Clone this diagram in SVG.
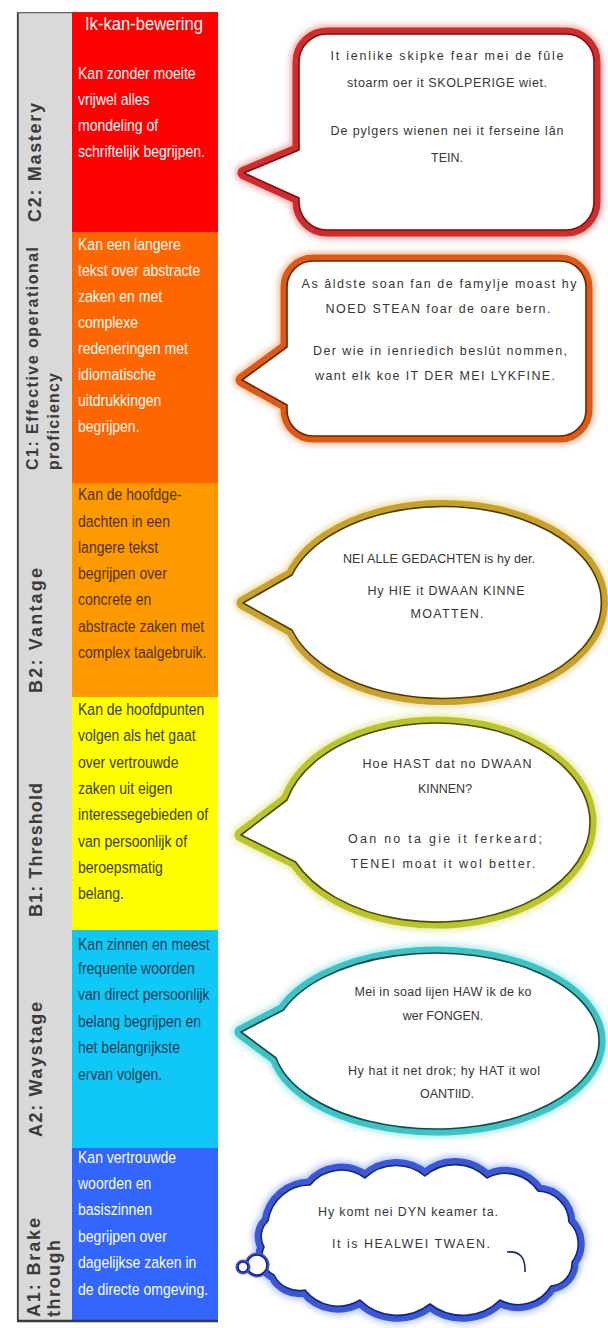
<svg xmlns="http://www.w3.org/2000/svg" width="608" height="1328" viewBox="0 0 608 1328">
<defs>
<style>
.lbl{font-family:"Liberation Sans",Arial,sans-serif;font-weight:bold;fill:#3c3c3c}
.txt{font-family:"Liberation Sans",Arial,sans-serif;font-size:16.5px}
.hdr{font-family:"Liberation Sans",Arial,sans-serif;font-size:19px;fill:#ffffff}
.wt{fill:#ffffff}
.bt{font-family:"Liberation Sans",Arial,sans-serif;font-size:12.5px;text-anchor:middle;fill:#363636}
.glow{fill:none;stroke-width:18;stroke-linejoin:round;opacity:.55;filter:url(#blur)}
.band{fill:#ffffff;stroke-width:13;stroke-linejoin:round;paint-order:stroke}
.edge{fill:none;stroke-width:1.6;stroke-linejoin:round}
.band-s{fill:#ffffff;stroke-width:5;paint-order:stroke}
</style>
<filter id="blur" x="-20%" y="-20%" width="140%" height="140%"><feGaussianBlur stdDeviation="3"/></filter>
<path id="p1" d="M 327 34 H 566 A 28 28 0 0 1 594 62 V 202 A 28 28 0 0 1 566 230 H 327 A 28 28 0 0 1 299 202 V 198 L 244 173 L 299 150 V 62 A 28 28 0 0 1 327 34 Z"/>
<path id="p2" d="M 313 261 H 560 A 26 26 0 0 1 586 287 V 410 A 26 26 0 0 1 560 436 H 313 A 26 26 0 0 1 287 410 V 405 L 242 380 L 287 347 V 287 A 26 26 0 0 1 313 261 Z"/>
<path id="p3" d="M 292 575 A 158 96 0 1 1 292 630 L 243 603 Z"/>
<path id="p4" d="M 287 800 A 153.5 99.5 0 1 1 295.6 862 L 241 835 Z"/>
<path id="p5" d="M 283.5 1010 A 163 88 0 1 1 276.1 1058 L 241 1032 Z"/>
<path id="p6" d="M 268 1221 A 42 42 0 0 1 310 1185 A 40 40 0 0 1 365 1178 A 45 45 0 0 1 425 1176 A 45 45 0 0 1 487 1178 A 39 39 0 0 1 538 1191 A 32 32 0 0 1 569 1222 A 30 30 0 0 1 572 1262 A 23 23 0 0 1 551 1286 A 38 38 0 0 1 500 1300 A 53 53 0 0 1 430 1304 A 53 53 0 0 1 360 1300 A 42 42 0 0 1 305 1290 A 28 28 0 0 1 274 1275 A 21 21 0 0 1 264 1247 A 21 21 0 0 1 268 1221 Z"/>
</defs>
<rect x="0" y="0" width="608" height="1328" fill="#ffffff"/>

<g id="scale">
<rect x="17" y="12" width="55" height="1309" fill="#d9d9d9"/>
</g>

<g id="level-c2">
<rect x="72" y="12" width="146" height="220" fill="#ff0000"/>
<text class="hdr" x="144" y="30" text-anchor="middle" textLength="118" lengthAdjust="spacingAndGlyphs">Ik-kan-bewering</text>
<text class="lbl" font-size="18" transform="translate(41 222) rotate(-90)" textLength="119">C2: Mastery</text>
<g class="txt wt" transform="translate(78 0) scale(0.85 1)">
<text y="79">Kan zonder moeite</text>
<text y="105">vrijwel alles</text>
<text y="131">mondeling of</text>
<text y="157">schriftelijk begrijpen.</text>
</g>
</g>

<g id="level-c1">
<rect x="72" y="232" width="146" height="251" fill="#ff6600"/>
<text class="lbl" font-size="16" transform="translate(38 470) rotate(-90)" textLength="223">C1: Effective operational</text>
<text class="lbl" font-size="16" transform="translate(58.5 470) rotate(-90)" textLength="97">proficiency</text>
<g class="txt wt" transform="translate(78 0) scale(0.85 1)">
<text y="250">Kan een langere</text>
<text y="276">tekst over abstracte</text>
<text y="302">zaken en met</text>
<text y="328">complexe</text>
<text y="354">redeneringen met</text>
<text y="380">idiomatische</text>
<text y="406">uitdrukkingen</text>
<text y="432">begrijpen.</text>
</g>
</g>

<g id="level-b2">
<rect x="72" y="483" width="146" height="214" fill="#ff9900"/>
<text class="lbl" font-size="18" transform="translate(42 693) rotate(-90)" textLength="125">B2: Vantage</text>
<g class="txt" fill="#4e3200" transform="translate(78 0) scale(0.85 1)">
<text y="500">Kan de hoofdge-</text>
<text y="527">dachten in een</text>
<text y="553">langere tekst</text>
<text y="579">begrijpen over</text>
<text y="605">concrete en</text>
<text y="632">abstracte zaken met</text>
<text y="658">complex taalgebruik.</text>
</g>
</g>

<g id="level-b1">
<rect x="72" y="697" width="146" height="233" fill="#ffff00"/>
<text class="lbl" font-size="18" transform="translate(42 917) rotate(-90)" textLength="134">B1: Threshold</text>
<g class="txt" fill="#3c3c00" transform="translate(78 0) scale(0.85 1)">
<text y="715">Kan de hoofdpunten</text>
<text y="741">volgen als het gaat</text>
<text y="768">over vertrouwde</text>
<text y="794">zaken uit eigen</text>
<text y="820">interessegebieden of</text>
<text y="847">van persoonlijk of</text>
<text y="873">beroepsmatig</text>
<text y="899">belang.</text>
</g>
</g>

<g id="level-a2">
<rect x="72" y="930" width="146" height="218" fill="#10c8f8"/>
<text class="lbl" font-size="18" transform="translate(42 1137) rotate(-90)" textLength="135">A2: Waystage</text>
<g class="txt" fill="#153a50" transform="translate(78 0) scale(0.85 1)">
<text y="950">Kan zinnen en meest</text>
<text y="974">frequente woorden</text>
<text y="1000">van direct persoonlijk</text>
<text y="1027">belang begrijpen en</text>
<text y="1053">het belangrijkste</text>
<text y="1080">ervan volgen.</text>
</g>
</g>

<g id="level-a1">
<rect x="72" y="1148" width="146" height="172" fill="#3366ff"/>
<text class="lbl" font-size="18" transform="translate(40 1317) rotate(-90)" textLength="99">A1: Brake</text>
<text class="lbl" font-size="18" transform="translate(59.5 1317) rotate(-90)" textLength="77">through</text>
<g class="txt wt" transform="translate(78 0) scale(0.85 1)">
<text y="1163">Kan vertrouwde</text>
<text y="1189">woorden en</text>
<text y="1215">basiszinnen</text>
<text y="1242">begrijpen over</text>
<text y="1268">dagelijkse zaken in</text>
<text y="1295">de directe omgeving.</text>
</g>
</g>

<g id="frame" fill="none" stroke="#3a3a3a">
<line x1="17.8" y1="12" x2="17.8" y2="1322" stroke-width="1.8"/>
<line x1="17" y1="12.6" x2="72" y2="12.6" stroke-width="1.4" stroke="#666"/>
<line x1="17" y1="1321" x2="218" y2="1321" stroke-width="2.4"/>
</g>

<g id="connectors"></g>

<g id="bubble-c2">
<use href="#p1" class="glow" stroke="#e86a6a"/>
<use href="#p1" class="band" stroke="#d22b2b"/>
<use href="#p1" class="edge" stroke="#7a0f0f"/>
<g class="bt" fill="#5a5a5a">
<text x="447" y="60" textLength="233">It ienlike skipke fear mei de fûle</text>
<text x="447" y="87" textLength="200">stoarm oer it SKOLPERIGE wiet.</text>
<text x="447" y="135" textLength="233">De pylgers wienen nei it ferseine lân</text>
<text x="447" y="162">TEIN.</text>
</g>
</g>

<g id="bubble-c1">
<use href="#p2" class="glow" stroke="#f08a4a"/>
<use href="#p2" class="band" stroke="#dc5a16"/>
<use href="#p2" class="edge" stroke="#6b2500"/>
<g class="bt" fill="#4a4a4a" font-size="13">
<text x="439" y="288" textLength="275">As âldste soan fan de famylje moast hy</text>
<text x="438" y="313" textLength="225">NOED STEAN foar de oare bern.</text>
<text x="440" y="354.5" textLength="254">Der wie in ienriedich beslút nommen,</text>
<text x="435" y="379.5" textLength="240">want elk koe IT DER MEI LYKFINE.</text>
</g>
</g>

<g id="bubble-b2">
<use href="#p3" class="glow" stroke="#dcc060"/>
<use href="#p3" class="band" stroke="#c9a128"/>
<use href="#p3" class="edge" stroke="#4a3808"/>
<g class="bt">
<text x="439" y="563" textLength="192">NEI ALLE GEDACHTEN is hy der.</text>
<text x="446" y="594.5" textLength="157">Hy HIE it DWAAN KINNE</text>
<text x="447" y="618" textLength="73">MOATTEN.</text>
</g>
</g>

<g id="bubble-b1">
<use href="#p4" class="glow" stroke="#d4dc60"/>
<use href="#p4" class="band" stroke="#bcc42a"/>
<use href="#p4" class="edge" stroke="#454a10"/>
<g class="bt">
<text x="447" y="768" textLength="169">Hoe HAST dat no DWAAN</text>
<text x="445" y="793">KINNEN?</text>
<text x="445" y="843" textLength="194">Oan no ta gie it ferkeard;</text>
<text x="443" y="868" textLength="185">TENEI moat it wol better.</text>
</g>
</g>

<g id="bubble-a2">
<use href="#p5" class="glow" stroke="#70d8d8"/>
<use href="#p5" class="band" stroke="#3cc3c6"/>
<use href="#p5" class="edge" stroke="#164848"/>
<g class="bt">
<text x="443" y="996" textLength="177">Mei in soad lijen HAW ik de ko</text>
<text x="443" y="1019.5">wer FONGEN.</text>
<text x="444" y="1074.5" textLength="192">Hy hat it net drok; hy HAT it wol</text>
<text x="447" y="1098">OANTIID.</text>
</g>
</g>

<g id="bubble-a1">
<use href="#p6" class="glow" stroke="#7a96ff"/>
<use href="#p6" class="band" stroke="#3a58d6"/>
<use href="#p6" class="edge" stroke="#15257a"/>
<path d="M 507 1252 Q 526 1250 525 1272" fill="none" stroke="#15257a" stroke-width="1.6"/>
<circle cx="257" cy="1265" r="10" class="band-s" stroke="#3a58d6"/>
<circle cx="257" cy="1265" r="10" class="edge" stroke="#15257a"/>
<circle cx="243" cy="1267" r="5" class="band-s" stroke="#3a58d6"/>
<circle cx="243" cy="1267" r="5" class="edge" stroke="#15257a"/>
<g class="bt">
<text x="408" y="1216" textLength="180">Hy komt nei DYN keamer ta.</text>
<text x="411" y="1248" textLength="158">It is HEALWEI TWAEN.</text>
</g>
</g>
</svg>
